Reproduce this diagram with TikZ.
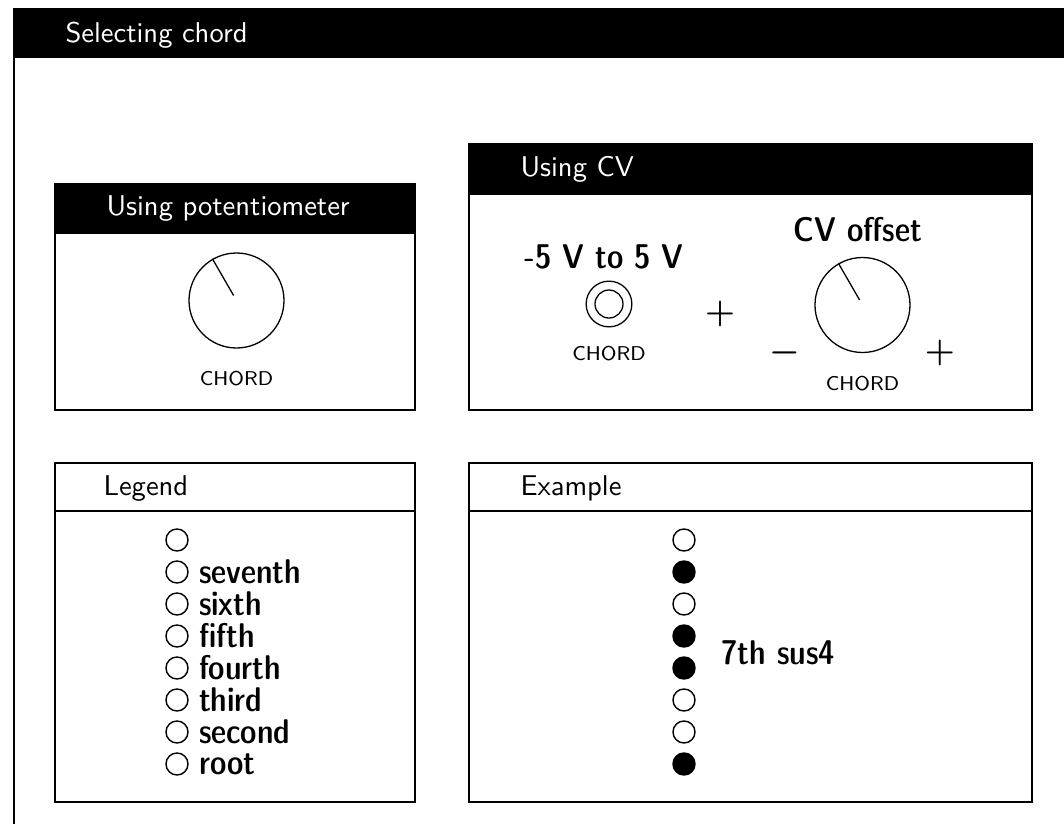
\documentclass[tikz,border=0pt]{standalone}
\usepackage{tikz}
\usetikzlibrary{positioning, calc}

\begin{document}
\begin{tikzpicture}[
    x=0.35pt, y=-0.35pt,
    font=\sffamily,
    panel/.style={draw, line width=1pt},
    bar/.style={draw, fill=black, line width=1pt},
    title/.style={anchor=base west, inner sep=0pt, font=\sffamily},
    knob/.style={circle, draw, line width=0.45pt, minimum size=33.25pt, inner sep=0pt},
    jack/.style={circle, draw, line width=0.45pt, minimum size=16pt, inner sep=0pt},
    knoblabel/.style={inner sep=0pt, font=\sffamily\scriptsize},
    sign/.style={inner sep=0pt, font=\large\boldmath},
    heading/.style={inner sep=0pt, font=\sffamily\fontseries{sbc}\selectfont\large},
    note/.style={circle, draw, line width=0.5pt, minimum size=7.7pt, inner sep=0pt},
    noteon/.style={note, fill=black},
    notename/.style={anchor=west, inner sep=0pt, font=\sffamily\fontseries{sbc}\selectfont\large},
]

\useasboundingbox (0,0) rectangle (1064,824);
\clip (0,0) rectangle (1064,824);

% Outer frame
\draw[line width=0.8pt] (14,9) rectangle (1120,880);
\fill (14,9) rectangle (1120,58);
\node[title, text=white] (main) at (65,42) {Selecting chord};

% Potentiometer panel
\draw[panel] (55,184) rectangle (415,410);
\draw[bar] (55,184) rectangle (415,233);
\node[title, text=white] (pottitle) at (106,215) {Using potentiometer};
\node[knob] (potknob) at (236.5,300.5) {};
\draw[line width=0.45pt] ($(potknob.center)!0.12!(potknob.120)$) -- (potknob.120);
\node[knoblabel, below=7.8pt of potknob] (potlabel) {CHORD};

% CV panel
\draw[panel] (469,144) rectangle (1032,410);
\draw[bar] (469,144) rectangle (1032,194);
\node[title, text=white] (cvtitle) at (520,176) {Using CV};
\node[heading] (range) at (604,257) {-5 V to 5 V};
\node[jack] (cvjack) at (609,304) {};
\node[circle, draw, line width=0.45pt, minimum size=9.8pt, inner sep=0pt] (cvjackin) at (cvjack) {};
\node[knoblabel, below=6.3pt of cvjack] (jacklabel) {CHORD};
\node[sign] (plus) at (720,314) {$+$};
\node[heading] (offset) at (858,230) {CV offset};
\node[knob] (cvknob) at (862.5,305) {};
\draw[line width=0.45pt] ($(cvknob.center)!0.12!(cvknob.120)$) -- (cvknob.120);
\node[knoblabel, below=7.8pt of cvknob] (cvlabel) {CHORD};
\node[sign] (lo) at (785,353) {$-$};
\node[sign] (hi) at (940,353) {$+$};

% Legend panel
\draw[panel] (55,463) rectangle (415,802);
\draw[panel] (55,511) -- (415,511);
\node[title] (legtitle) at (103,495) {Legend};
\foreach \name [count=\i from 0] in {{}, seventh, sixth, fifth, fourth, third, second, root} {
    \node[note] (leg\i) at (177,540+32*\i) {};
    \node[notename, right=3.4pt of leg\i] {\name};
}

% Example panel
\draw[panel] (469,463) rectangle (1032,802);
\draw[panel] (469,511) -- (1032,511);
\node[title] (extitle) at (520,495) {Example};
\foreach \kind [count=\i from 0] in {note, noteon, note, noteon, noteon, note, note, noteon}
    \node[\kind] (ex\i) at (684,540+32*\i) {};
\node[notename] (chordname) at (721,653) {7th sus4};

\end{tikzpicture}
\end{document}
